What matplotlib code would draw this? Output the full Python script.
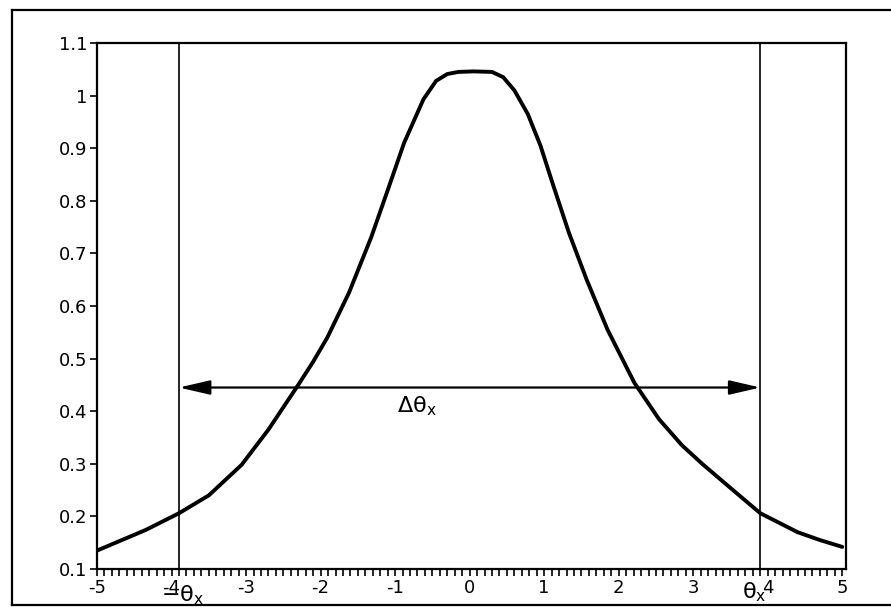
import numpy as np
import matplotlib.pyplot as plt
from matplotlib.lines import Line2D

plt.rcParams['font.family'] = ['DejaVu Sans']
plt.rcParams['axes.unicode_minus'] = False
plt.rcParams['mathtext.fontset'] = 'dejavusans'
plt.rcParams['mathtext.default'] = 'regular'

# ---------- Data ----------
theta = [-5.0, -4.7, -4.35, -3.9, -3.5, -3.06, -2.7, -2.30, -2.1, -1.91,
         -1.62, -1.32, -1.10, -0.88, -0.62, -0.45, -0.30, -0.15, 0.05, 0.30,
         0.45, 0.60, 0.78, 0.95, 1.12, 1.33, 1.57, 1.85, 2.21, 2.54, 2.85,
         3.12, 3.5, 3.9, 4.4, 4.7, 5.0]
response = [0.135, 0.153, 0.174, 0.206, 0.240, 0.298, 0.365, 0.450, 0.494,
            0.540, 0.625, 0.731, 0.820, 0.910, 0.993, 1.028, 1.041, 1.045,
            1.046, 1.045, 1.035, 1.010, 0.965, 0.905, 0.830, 0.740, 0.650,
            0.555, 0.454, 0.385, 0.335, 0.300, 0.254, 0.206, 0.170, 0.155,
            0.142]
theta_lim = [-3.9, 3.9]
arrow_level = 0.445
yticks = [0.1, 0.2, 0.3, 0.4, 0.5, 0.6, 0.7, 0.8, 0.9, 1.0, 1.1]
ytick_labels = ['0.1', '0.2', '0.3', '0.4', '0.5', '0.6', '0.7', '0.8',
                '0.9', '1', '1.1']
xticks = [-5, -4, -3, -2, -1, 0, 1, 2, 3, 4, 5]

# ---------- Plot ----------
fig = plt.figure(figsize=(8.91, 6.09), dpi=100)
ax = fig.add_axes([0.1089, 0.0657, 0.8406, 0.8637])

ax.plot(theta, response, color='black', lw=2.8, solid_joinstyle='round',
        solid_capstyle='round')

for xv in theta_lim:
    ax.axvline(xv, color='black', lw=1.2)

ax.annotate('', xy=(theta_lim[0], arrow_level), xytext=(theta_lim[1], arrow_level),
            arrowprops=dict(arrowstyle='<|-|>,head_length=0.95,head_width=0.22',
                            mutation_scale=20, lw=1.6, color='black',
                            shrinkA=0, shrinkB=0))

ax.text(-0.98, 0.41, r'$\Delta\theta_x$', fontsize=16, ha='left', va='center')
ax.text(-3.85, 0.05, r'$-\theta_x$', fontsize=16, ha='center', va='center',
        clip_on=False)
ax.text(3.82, 0.056, r'$\theta_x$', fontsize=16, ha='center', va='center',
        clip_on=False)

ax.set_xlim(-5, 5.05)
ax.set_ylim(0.1, 1.1)
ax.set_yticks(yticks)
ax.set_yticklabels(ytick_labels)
ax.set_xticks(xticks)
ax.set_xticklabels([str(v) for v in xticks])
ax.set_xticks(np.arange(-50, 51) / 10, minor=True)
ax.tick_params(axis='both', which='both', direction='out', length=5,
               width=1.2, labelsize=13, pad=2, colors='black')
ax.tick_params(axis='y', which='minor', left=False)
for sp in ax.spines.values():
    sp.set_linewidth(1.6)

# outer frame of the scanned figure
frame_kw = dict(color='black', lw=1.6, transform=fig.transFigure)
fig.add_artist(Line2D([0.014, 0.014], [0.006, 0.984], **frame_kw))
fig.add_artist(Line2D([0.014, 1.0], [0.984, 0.984], **frame_kw))
fig.add_artist(Line2D([0.014, 1.0], [0.006, 0.006], **frame_kw))

fig.savefig('out.png', dpi=100)
